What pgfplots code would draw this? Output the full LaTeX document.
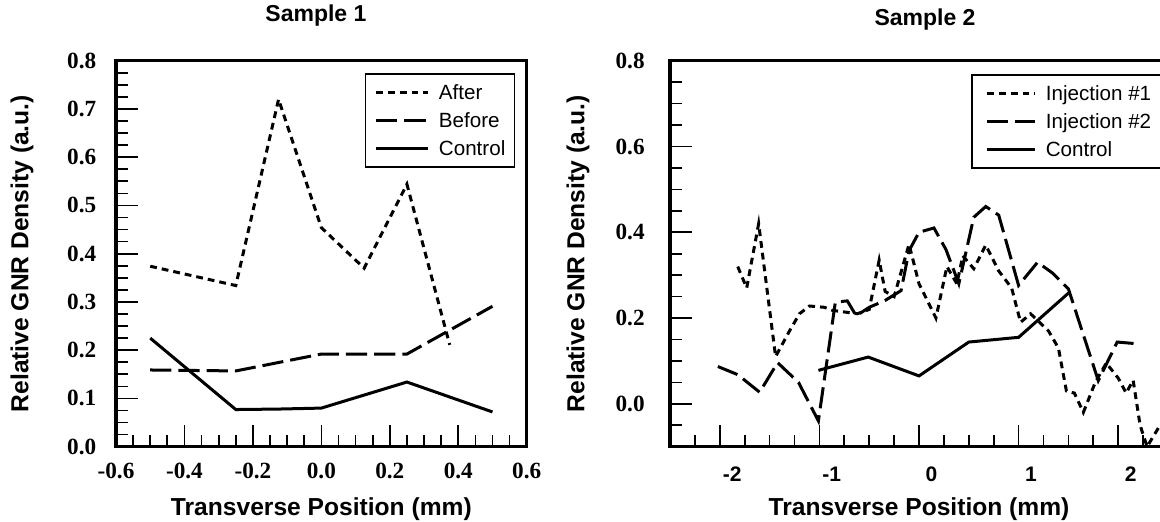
\documentclass[border=0pt]{standalone}
\usepackage{fontspec}
\setmainfont{Liberation Sans}
\newfontfamily\serifb{Liberation Serif}
\usepackage{pgfplots}
\pgfplotsset{compat=1.18}
\pgfplotsset{
  base/.style={
    scale only axis, height=193pt,
    tick pos=left, tick align=inside,
    major tick length=10.8pt, minor tick length=5.8pt,
    tick style={line width=0.85pt, black},
    axis line style={line width=1.6pt},
    label style={font=\fontsize{12.3}{14}\selectfont\bfseries},
    title style={font=\fontsize{11.5}{13}\selectfont\bfseries, anchor=base, at={(axis description cs:0.5,1)}},
    yticklabel style={font=\serifb\bfseries\fontsize{11.6}{13}\selectfont, anchor=east, inner sep=0pt},
    xlabel style={at={(axis description cs:0.5,0)}, anchor=base},
    legend cell align=left,
    legend style={font=\fontsize{10.3}{12}\selectfont, draw=black, line width=0.65pt,
      nodes={inner sep=0pt, text height=10.65pt, text depth=3.35pt},
      row sep=0pt, column sep=4.6pt, inner ysep=2.2pt},
  },
  shortd/.style={line width=1.5pt, dash pattern=on 3.4pt off 2.5pt},
  longd/.style={line width=1.5pt, dash pattern=on 10.6pt off 3.5pt},
  solidl/.style={line width=1.5pt},
}
\begin{document}
\begin{tikzpicture}
\path[use as bounding box] (0,0) rectangle (580pt,261pt);
\clip (0,0) rectangle (580pt,261pt);
% ---------------- Sample 1 ----------------
\begin{axis}[base,
  at={(58pt,37.65pt)}, anchor=south west, width=205.35pt,
  xmin=-0.6, xmax=0.6, ymin=0, ymax=0.8,
  xtick={-0.6,-0.4,-0.2,0,0.2,0.4,0.6},
  xticklabels={-0.6,-0.4,-0.2,0.0,0.2,0.4,0.6},
  ytick={0,0.1,0.2,0.3,0.4,0.5,0.6,0.7,0.8},
  yticklabels={0.0,0.1,0.2,0.3,0.4,0.5,0.6,0.7,0.8},
  minor x tick num=3, minor y tick num=3,
  xticklabel style={font=\serifb\bfseries\fontsize{11.6}{13}\selectfont, anchor=base, inner sep=0pt, yshift=-15.8pt},
  yticklabel style={xshift=-9.7pt},
  title={Sample 1}, title style={yshift=13.7pt, xshift=-2.7pt},
  xlabel={Transverse Position (mm)}, xlabel style={yshift=-34.6pt},
  ylabel={Relative GNR Density (a.u.)}, ylabel style={at={(axis description cs:-0.229,0.5)}, anchor=center},
  legend image code/.code={\draw[#1] (0pt,0pt) -- (26pt,0pt);},
  legend style={at={(rel axis cs:1,1)}, anchor=north east, xshift=-5.85pt, yshift=-6.35pt, inner xsep=4.5pt},
]
\addplot[shortd] coordinates {(-0.5,0.374) (-0.25,0.334) (-0.125,0.72) (0,0.454) (0.125,0.37) (0.25,0.544) (0.375,0.211)};
\addlegendentry{After}
\addplot[longd] coordinates {(-0.5,0.159) (-0.25,0.157) (0,0.192) (0.25,0.192) (0.5,0.291)};
\addlegendentry{Before}
\addplot[solidl] coordinates {(-0.5,0.225) (-0.25,0.077) (-0.125,0.078) (0,0.08) (0.25,0.134) (0.5,0.072)};
\addlegendentry{Control}
\end{axis}
% ---------------- Sample 2 ----------------
\begin{axis}[base,
  at={(335pt,37.65pt)}, anchor=south west, width=249pt,
  xmin=-2.5, xmax=2.5, ymin=-0.1, ymax=0.8,
  xtick={-2,-1,0,1,2},
  xticklabels={-2,-1,0,1,2},
  minor xtick={-2.25,-1.75,-1.5,-1.25,-0.75,-0.5,-0.25,0.25,0.5,0.75,1.25,1.5,1.75,2.25},
  ytick={0,0.2,0.4,0.6,0.8},
  yticklabels={0.0,0.2,0.4,0.6,0.8},
  minor ytick={-0.05,0.05,0.1,0.15,0.25,0.3,0.35,0.45,0.5,0.55,0.65,0.7,0.75},
  xticklabel style={font=\fontsize{10.5}{12}\selectfont\bfseries, anchor=base, inner sep=0pt, yshift=-17.5pt, xshift=6.2pt},
  yticklabel style={xshift=-12.5pt},
  title={Sample 2}, title style={yshift=11.7pt, xshift=3pt},
  xlabel={Transverse Position (mm)}, xlabel style={yshift=-34.3pt},
  ylabel={Relative GNR Density (a.u.)}, ylabel style={at={(axis description cs:-0.1847,0.5)}, anchor=center},
  legend image code/.code={\draw[#1] (0pt,0pt) -- (24pt,0pt);},
  legend style={at={(rel axis cs:0,1)}, anchor=north west, xshift=150.7pt, yshift=-6.85pt, inner xsep=6.8pt},
]
\addplot[shortd] coordinates {(-1.82,0.32) (-1.73,0.27) (-1.61,0.42) (-1.44,0.11) (-1.30,0.17) (-1.2,0.21) (-1.1,0.228) (-0.95,0.225) (-0.87,0.218) (-0.62,0.21) (-0.5,0.22) (-0.4,0.335) (-0.34,0.262) (-0.25,0.25) (-0.1,0.372) (0.0,0.28) (0.17,0.2) (0.28,0.32) (0.38,0.28) (0.44,0.345) (0.55,0.315) (0.67,0.37) (0.8,0.31) (0.93,0.27) (1.02,0.19) (1.12,0.21) (1.3,0.17) (1.4,0.13) (1.48,0.03) (1.56,0.025) (1.65,-0.02) (1.77,0.05) (1.88,0.095) (2.0,0.06) (2.08,0.025) (2.15,0.055) (2.22,-0.05) (2.29,-0.1) (2.42,-0.05)};
\addlegendentry{Injection \#1}
\addplot[longd] coordinates {(-2.02,0.087) (-1.82,0.068) (-1.6,0.027) (-1.42,0.096) (-1.21,0.05) (-1.01,-0.04) (-0.84,0.237) (-0.72,0.24) (-0.63,0.205) (-0.5,0.225) (-0.34,0.241) (-0.18,0.264) (-0.1,0.357) (0.0,0.4) (0.15,0.41) (0.27,0.36) (0.4,0.28) (0.55,0.435) (0.67,0.46) (0.8,0.44) (1.0,0.276) (1.19,0.33) (1.34,0.305) (1.5,0.268) (1.8,0.054) (1.99,0.144) (2.19,0.14)};
\addlegendentry{Injection \#2}
\addplot[solidl] coordinates {(-1.01,0.078) (-0.51,0.109) (0.0,0.065) (0.5,0.144) (1.0,0.155) (1.5,0.258)};
\addlegendentry{Control}
\end{axis}
\end{tikzpicture}
\end{document}
